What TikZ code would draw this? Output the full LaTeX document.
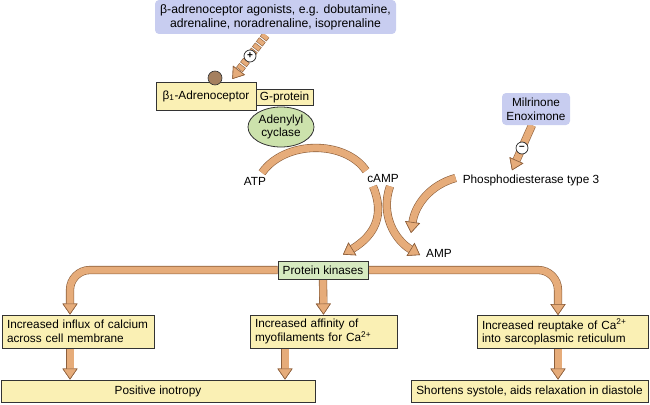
\documentclass[tikz,border=0pt]{standalone}
\usepackage{fontspec}
\setmainfont{Liberation Sans}
\usetikzlibrary{arrows.meta,shapes.geometric,backgrounds,calc}
\definecolor{tanc}{RGB}{230,172,122}
\definecolor{outc}{RGB}{140,95,60}
\definecolor{bluec}{RGB}{200,205,240}
\definecolor{yelc}{RGB}{250,240,180}
\definecolor{grnc}{RGB}{214,234,192}
\definecolor{ellc}{RGB}{204,226,172}
\definecolor{brnc}{RGB}{165,128,95}
\tikzset{
  ft/.tip={Triangle[length=11pt,width=15pt,fill=tanc,color=outc,line width=0.6pt]},
  fatline/.style={line width=7pt,draw=tanc,preaction={draw=outc,line width=8.2pt}},
  fatarr/.style={line width=7pt,draw=tanc,-ft,preaction={draw=outc,line width=8.2pt,-ft}},
  dasharr/.style={line width=7pt,draw=tanc,-ft,dash pattern=on 4pt off 2.5pt,
    preaction={draw=outc,line width=8.2pt,-ft,dash pattern=on 5.2pt off 1.3pt,dash phase=0.6pt}},
  txt/.style={font=\fontsize{11.8}{13.6}\selectfont, inner sep=0pt},
  bluebox/.style={txt, fill=bluec, rounded corners=4pt, align=center},
  ybox/.style={txt, draw=black!80, line width=0.8pt, fill=yelc},
  lbox/.style={ybox, inner xsep=5pt, align=left},
  sign/.style={circle, draw=black!85, line width=0.7pt, fill=white, inner sep=0pt, minimum size=12pt, font=\fontsize{10}{10}\selectfont\bfseries},
}
\begin{document}
\begin{tikzpicture}[x=1pt,y=-1pt]
\useasboundingbox (0,0) rectangle (650,404);
% nodes
\node[bluebox, minimum width=241pt, minimum height=34pt, font=\fontsize{12.2}{13.8}\selectfont] (ago) at (275.5,17)
  {β-adrenoceptor agonists, e.g. dobutamine,\\adrenaline, noradrenaline, isoprenaline};
\node[ybox, minimum width=100pt, minimum height=28pt] (beta) at (206,96) {β\textsubscript{1}-Adrenoceptor};
\node[ybox, minimum width=57pt, minimum height=16pt] (gp) at (284.5,97) {G-protein};
\node[txt, ellipse, draw=black!80, line width=0.8pt, fill=ellc, minimum width=66pt, minimum height=40pt, align=center] (ac) at (281,127) {Adenylyl\\cyclase};
\node[circle, draw=black!80, line width=0.6pt, fill=brnc, minimum size=14pt, inner sep=0pt] (lig) at (215,78) {};
\node[txt] (atp) at (255,181) {ATP};
\node[txt] (camp) at (383,178) {cAMP};
\node[txt] (pde) at (531,180) {Phosphodiesterase type 3};
\node[bluebox, minimum width=68pt, minimum height=32pt] (mil) at (536,109) {Milrinone\\Enoximone};
\node[txt] (amp) at (439,253) {AMP};
\node[ybox, fill=grnc, minimum width=90pt, minimum height=18pt] (pk) at (323,270) {Protein kinases};
\node[lbox, text width=142pt, minimum height=33pt] (b1) at (78,331.5) {Increased influx of calcium\\across cell membrane};
\node[lbox, text width=137pt, minimum height=33pt] (b2) at (323.5,331.5) {Increased affinity of\\myofilaments for Ca\textsuperscript{2+}};
\node[lbox, text width=161pt, minimum height=33pt] (b3) at (562.5,332) {Increased reuptake of Ca\textsuperscript{2+}\\into sarcoplasmic reticulum};
\node[ybox, minimum width=314pt, minimum height=22pt] (pos) at (158,391) {Positive inotropy};
\node[ybox, minimum width=237pt, minimum height=22pt] (sho) at (529.5,391) {Shortens systole, aids relaxation in diastole};
\coordinate (pdetip) at (411,233);
% connectors
\begin{pgfonlayer}{background}
\draw[dasharr] ($(ago.south)+(-9.5,1)$) -- ($(lig.east)+(10,1)$);
\draw[fatline] ($(atp.north)+(7,-4)$) .. controls (285,140) and (345,140) .. ($(camp.north west)+(-1,-3)$);
\draw[fatarr] ($(camp.south)+(-10,4)$) .. controls (385,215) and (375,235) .. ($(pk.north)+(20,-6)$);
\draw[fatarr] ($(camp.south)+(7,4)$) .. controls (380,215) and (395,240) .. ($(amp.west)+(-6,2)$);
\draw[fatarr] ($(pde.west)+(-7,-2)$) .. controls (430,185) and (415,205) .. (pdetip);
\draw[fatarr] ($(mil.south)+(-4,0)$) -- ($(pde.north)+(-19,-4)$);
\draw[fatarr, rounded corners=20pt] (pk.west) -| ([xshift=-8pt]b1.north);
\draw[fatarr, rounded corners=20pt] (pk.east) -| ([xshift=-4.5pt]b3.north);
\draw[fatarr] (pk.south) -- (b2.north);
\draw[fatarr] ([xshift=-8pt]b1.south) -- ([xshift=-8pt]b1.south |- pos.north);
\draw[fatarr] ([xshift=-38.5pt]b2.south) -- ([xshift=-38.5pt]b2.south |- pos.north);
\draw[fatarr] ([xshift=-4.5pt]b3.south) -- ([xshift=-4.5pt]b3.south |- sho.north);
\end{pgfonlayer}
\node[sign] (plus) at (250,56) {+};
\node[sign] (minus) at (522,148) {–};
\end{tikzpicture}
\end{document}
